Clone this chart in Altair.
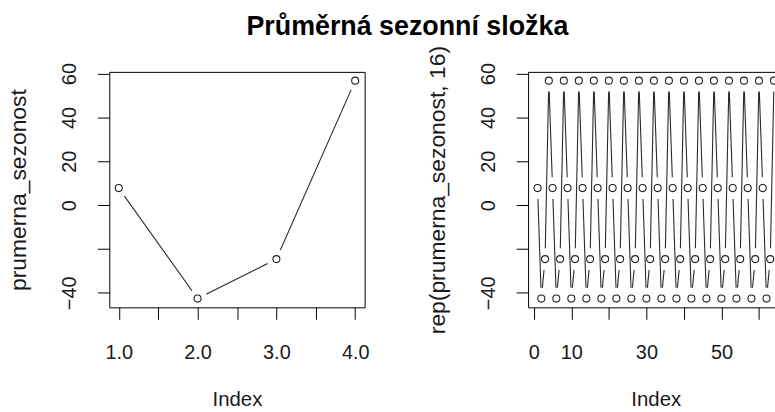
import json
import altair as alt
import pandas as pd

# ---------------- data ----------------
title_text = "Průměrná sezonní složka"
prumerna_sezonost = [7.8, -42.6, -24.6, 56.8]
rep_count = 16
left_idx = [1, 2, 3, 4]
right_vals = prumerna_sezonost * rep_count          # rep(prumerna_sezonost, 16)
right_idx = list(range(1, len(right_vals) + 1))

left_x_ticks = [1.0, 1.5, 2.0, 2.5, 3.0, 3.5, 4.0]
left_x_labels = [1.0, 2.0, 3.0, 4.0]
right_x_ticks = [0, 10, 20, 30, 40, 50, 60]
right_x_labels = [0, 10, 30, 50]
y_ticks = [-40, -20, 0, 20, 40, 60]
y_labels = [-40, 0, 20, 40, 60]
left_ytitle = "prumerna_sezonost"
right_ytitle = "rep(prumerna_sezonost, 16)"
x_title = "Index"

# ---------------- layout / style ----------------
FONT = "Liberation Sans"
W, H = 257, 237
RW = 248.5
Y_DOMAIN = [-46.6, 60.8]
LEFT_X_DOMAIN = [0.88, 4.12]
RIGHT_X_DOMAIN = [-1.52, -1.52 + 68.04 * RW / W]

left_df = pd.DataFrame({"idx": left_idx, "val": prumerna_sezonost})
right_df = pd.DataFrame({"idx": right_idx, "val": right_vals})

ylab_expr = f"indexof({json.dumps(y_labels)}, datum.value) >= 0 ? datum.label : ''"


def panel(df, xdom, xticks, xlabel_expr, ytitle, width, right_border, dense):
    xs = alt.Scale(domain=xdom, nice=False, zero=False)
    ys = alt.Scale(domain=Y_DOMAIN, nice=False, zero=False)
    xaxis = alt.Axis(values=xticks, labelExpr=xlabel_expr, title=x_title,
                     tickSize=12, labelPadding=23, labelFlush=False,
                     labelOverlap=False, grid=False, labelBaseline="top",
                     titleX=128.5, titleY=99, titleBaseline="alphabetic",
                     titleAlign="center", titleFontSize=20.5, zindex=1)
    yaxis = alt.Axis(values=y_ticks, labelExpr=ylab_expr, title=ytitle,
                     tickSize=12, labelPadding=18, labelAngle=270,
                     labelAlign="center", labelBaseline="bottom",
                     labelOverlap=False, labelFlush=False, grid=False,
                     titleX=-91, titleY=H / 2, titleAngle=270,
                     titleAlign="center", titleBaseline="middle",
                     titleFontSize=23, titleLimit=400,
                     minExtent=110, maxExtent=110, zindex=1)
    base = alt.Chart(df)
    enc_noaxis = dict(x=alt.X("idx:Q", scale=xs, axis=None),
                      y=alt.Y("val:Q", scale=ys, axis=None))
    line = base.mark_line(color="#2a2a2a", strokeWidth=1.1, clip=True).encode(
        x=alt.X("idx:Q", scale=xs, axis=xaxis),
        y=alt.Y("val:Q", scale=ys, axis=yaxis),
    )
    if dense:
        # nearly vertical segments: the gap is a short vertical white bar
        halo = base.mark_tick(color="white", opacity=1, orient="vertical",
                              size=22, thickness=6, clip=True).encode(**enc_noaxis)
    else:
        halo = base.mark_circle(color="white", opacity=1, size=400,
                                clip=True).encode(**enc_noaxis)
    pts = base.mark_point(shape="circle", filled=False, color="#222222", opacity=1,
                          size=50, strokeWidth=1.1, clip=True).encode(**enc_noaxis)
    top_axis = alt.Axis(orient="top", labels=False, ticks=False, title=None,
                        grid=False, zindex=1)
    right_axis = alt.Axis(orient="right", labels=False, ticks=False, title=None,
                          grid=False, minExtent=0, maxExtent=0, zindex=1)
    border = base.mark_point(opacity=0, clip=True).encode(
        x=alt.X("idx:Q", scale=xs, axis=top_axis),
        y=alt.Y("val:Q", scale=ys, axis=right_axis if right_border else None),
    )
    return alt.layer(line, halo, pts, border).resolve_axis(
        x="independent", y="independent"
    ).properties(width=width, height=H)


left = panel(left_df, LEFT_X_DOMAIN, left_x_ticks,
             f"indexof({json.dumps(left_x_labels)}, datum.value) >= 0 ? format(datum.value, '.1f') : ''",
             left_ytitle, W, True, False)
right = panel(right_df, RIGHT_X_DOMAIN, right_x_ticks,
              f"indexof({json.dumps(right_x_labels)}, datum.value) >= 0 ? datum.label : ''",
              right_ytitle, RW, False, True)

chart = alt.hconcat(left, right, spacing=49.5).properties(
    title=alt.TitleParams(title_text, font=FONT, fontSize=27, fontWeight="bold",
                          anchor="middle", color="black", offset=5, dx=20),
    padding={"left": 0, "top": 11, "right": 0, "bottom": 0},
    background="white",
).configure_view(strokeOpacity=0).configure_axis(
    labelFont=FONT, titleFont=FONT, labelFontSize=20, titleFontSize=21,
    titleFontWeight="normal", labelColor="#1a1a1a", titleColor="#1a1a1a",
    domainColor="black", tickColor="black", domainWidth=1, tickWidth=1,
)

chart.save("out.html", embed_options={"renderer": "svg", "actions": False})
